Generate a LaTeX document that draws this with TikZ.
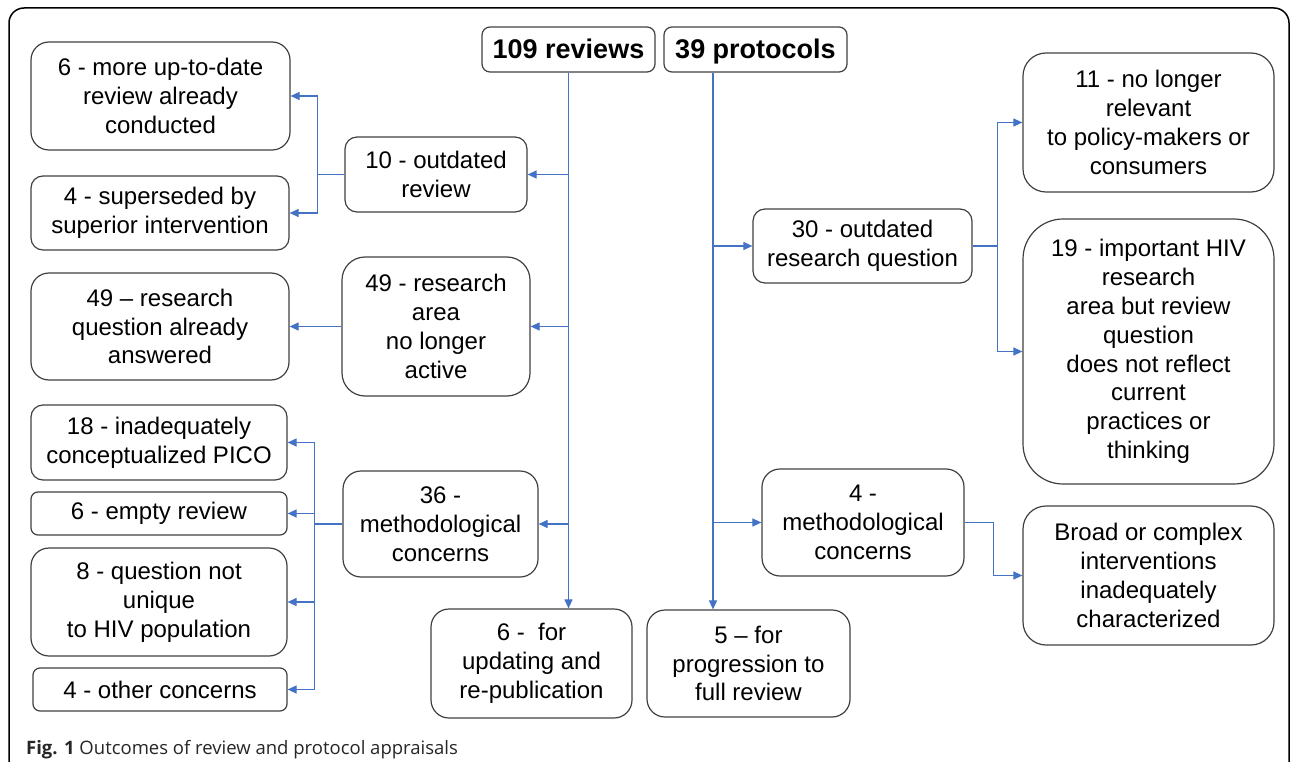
\documentclass[tikz,border=0pt]{standalone}
\usepackage{fontspec}
\setmainfont{Liberation Sans}
\newfontfamily\capfont{Open Sans}
\usepackage{tikz}
\usetikzlibrary{arrows.meta}
\definecolor{figL}{RGB}{68,114,196}
\definecolor{figE}{RGB}{64,64,64}
\tikzset{box/.style={draw=figE, line width=1.2pt, rounded corners=#1, align=center,
  inner sep=0pt, font=\fontsize{24}{28.8}\selectfont}, box/.default=16pt,
  head/.style={box=8pt, text height=25pt, text depth=6pt, font=\fontsize{27}{32}\selectfont\bfseries},
  wire/.style={figL, line width=1.1pt},
  link/.style={wire, -{Triangle[length=9pt,width=8pt]}}}

\begin{document}
\begin{tikzpicture}[x=1pt,y=-1pt]
\useasboundingbox (0,0) rectangle (1290,762);
% outer frame, cut off at right and bottom
\draw[line width=1.5pt, rounded corners=15pt] (9,780) -- (9,8) -- (1289,8) -- (1289,780);
% headers
\node[head, minimum width=173pt, minimum height=45pt] (reviews) at (568.5,49.5) {109 reviews};
\node[head, minimum width=183pt, minimum height=45pt] (protocols) at (755.5,49.5) {39 protocols};
% left column
\node[box=18pt, minimum width=259pt, minimum height=108pt] (uptodate) at (160.5,96) {6 - more up-to-date\\review already\\conducted};
\node[box=12pt, minimum width=258pt, minimum height=74pt] (supersed) at (160,213) {4 - superseded by\\superior intervention};
\node[box=18pt, minimum width=258pt, minimum height=107pt] (answered) at (160,326.5) {49 -- research\\question already\\answered};
\node[box=12pt, minimum width=256pt, minimum height=75pt] (pico) at (159,442.5) {18 - inadequately\\conceptualized PICO};
\node[box=7pt, minimum width=256pt, minimum height=43pt] (empty) at (159,513.5) {6 - empty review};
\node[box=18pt, minimum width=256pt, minimum height=108pt] (unique) at (159,602) {8 - question not\\unique\\to HIV population};
\node[box=7pt, minimum width=254pt, minimum height=43pt] (other) at (160,689.5) {4 - other concerns};
% review outcomes
\node[box=12pt, minimum width=182pt, minimum height=75pt] (outrev) at (436,174.5) {10 - outdated\\review};
\node[box=23pt, minimum width=188pt, minimum height=139pt] (inactive) at (436,326.5) {49 - research\\area\\no longer\\active};
\node[box=18pt, minimum width=195pt, minimum height=106pt] (methrev) at (440.5,524) {36 -\\methodological\\concerns};
\node[box=18pt, minimum width=201pt, minimum height=109pt] (update) at (531.5,663.5) {6 -\ \ for\\updating and\\re-publication};
% protocol outcomes
\node[box=12pt, minimum width=219pt, minimum height=74pt] (outrq) at (862.5,246) {30 - outdated\\research question};
\node[box=18pt, minimum width=202pt, minimum height=107pt] (methprot) at (863,522.5) {4 -\\methodological\\concerns};
\node[box=18pt, minimum width=203pt, minimum height=107pt] (progress) at (748.5,663.5) {5 -- for\\progression to\\full review};
% right column
\node[box=23pt, minimum width=251pt, minimum height=139pt] (relevant) at (1148.5,122.5) {11 - no longer\\relevant\\to policy-makers or\\consumers};
\node[box=40pt, minimum width=251pt, minimum height=265pt] (important) at (1148.5,351.5) {19 - important HIV\\research\\area but review\\question\\does not reflect\\current\\practices or\\thinking};
\node[box=23pt, minimum width=251pt, minimum height=139pt] (broad) at (1148.5,575.5) {Broad or complex\\interventions\\inadequately\\characterized};
% caption
\node[anchor=base west, inner sep=0pt, text=black!85, font=\capfont\fontsize{18.5}{22}\selectfont] (caption) at (26,754) {{\bfseries Fig. 1} Outcomes of review and protocol appraisals};
% reviews trunk
\draw[link] (reviews.south) -- (reviews.south |- update.north);
\foreach \n in {outrev,inactive,methrev}
  \draw[link] (reviews.south |- \n.east) -- (\n.east);
\coordinate (fkA) at ([xshift=-27pt]outrev.west);
\draw[wire] (outrev.west) -- (fkA);
\foreach \n in {uptodate,supersed}
  \draw[link] (fkA) |- (\n.east);
\draw[link] (inactive.west) -- (answered.east);
\coordinate (fkB) at ([xshift=-28pt]methrev.west);
\draw[wire] (methrev.west) -- (fkB);
\foreach \n in {pico,empty,unique,other}
  \draw[link] (fkB) |- (\n.east);
% protocols trunk
\coordinate (pt) at ([xshift=-42.5pt]protocols.south);
\draw[link] (pt) -- (pt |- progress.north);
\foreach \n in {outrq,methprot}
  \draw[link] (pt |- \n.west) -- (\n.west);
\coordinate (fkC) at ([xshift=25pt]outrq.east);
\draw[wire] (outrq.east) -- (fkC);
\foreach \n in {relevant,important}
  \draw[link] (fkC) |- (\n.west);
\draw[link] (methprot.east) -- ++(29,0) |- (broad.west);
\end{tikzpicture}
\end{document}
